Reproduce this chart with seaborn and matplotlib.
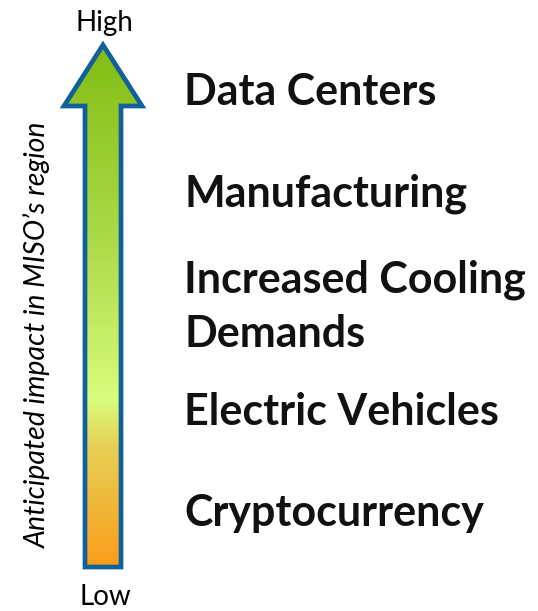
import numpy as np
import matplotlib.pyplot as plt
import seaborn as sns
from matplotlib.colors import LinearSegmentedColormap
from matplotlib.patches import Polygon

# Drivers of load growth, highest impact first
drivers = ['Data Centers', 'Manufacturing', 'Increased Cooling\nDemands',
           'Electric Vehicles', 'Cryptocurrency']
scale_ends = ['High', 'Low']
axis_title = 'Anticipated impact in MISO\u2019s region'

# gradient stops, bottom (low) to top (high)
grad_pos = [0.0, 0.12, 0.23, 0.32, 0.6, 1.0]
grad_col = ['#fd9c1a', '#f0b83a', '#e6d055', '#d8fc7c', '#b0dc4c', '#82bd14']

sns.set_theme(style='white')
plt.rcParams['font.family'] = ['Lato', 'DejaVu Sans']

W, H = 538, 611
fig = plt.figure(figsize=(W / 100, H / 100), dpi=100)
ax = fig.add_axes([0, 0, 1, 1])
ax.set_xlim(0, W)
ax.set_ylim(H, 0)
ax.axis('off')

# arrow outline (pixel coords)
tip_y, head_y, base_y = 45, 106, 567
cx = 103
arrow = Polygon([(cx, tip_y), (cx + 39, head_y), (cx + 18, head_y),
                 (cx + 18, base_y), (cx - 18, base_y), (cx - 18, head_y),
                 (cx - 39, head_y)], closed=True, facecolor='none',
                edgecolor='#10609a', linewidth=3.4, joinstyle='miter', zorder=3)
ax.add_patch(arrow)

cmap = LinearSegmentedColormap.from_list('impact', list(zip(grad_pos, grad_col)))
grad = np.linspace(0, 1, 256).reshape(-1, 1)
img = ax.imshow(grad, cmap=cmap, aspect='auto', origin='lower',
                extent=[cx - 45, cx + 45, base_y, tip_y], zorder=2)
img.set_clip_path(arrow)

ax.text(cx + 1, 31, scale_ends[0], ha='center', va='baseline', fontsize=20, color='black')
ax.text(cx + 2, 605, scale_ends[1], ha='center', va='baseline', fontsize=20, color='black')
ax.text(37, 335, axis_title, rotation=90, ha='center', va='center',
        fontsize=20.5, style='italic', color='black')

# baselines of the first line of each label, second lines 54 px lower
label_base = [105, 207, 293, 425, 526]
for lab, y in zip(drivers, label_base):
    for i, line in enumerate(lab.split('\n')):
        ax.text(184, y + 54 * i, line, ha='left', va='baseline', fontsize=31,
                fontweight='bold', color='#111111')

fig.savefig('out.png', dpi=100)
